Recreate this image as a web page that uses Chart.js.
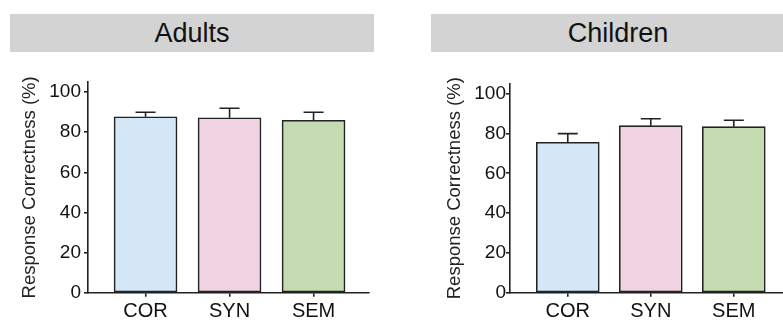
<!DOCTYPE html>
<html>
<head>
<meta charset="utf-8">
<script src="https://cdn.jsdelivr.net/npm/chart.js@4.4.1/dist/chart.umd.min.js"></script>
<style>
  body { margin: 0; width: 783px; height: 320px; overflow: hidden; background: #fff; position: relative; font-family: "Liberation Sans", Arial, sans-serif; }
  .panelTitle { position: absolute; top: 14px; height: 38px; line-height: 38px; background: #d3d3d3; color: #111; font-size: 27px; text-align: center; }
  canvas { position: absolute; top: 60px; }
</style>
</head>
<body>
<div class="panelTitle" style="left:10px; width:364px;">Adults</div>
<div class="panelTitle" style="left:431px; width:374px;">Children</div>
<canvas id="adultsChart" width="390" height="260" style="left:0px;"></canvas>
<canvas id="childrenChart" width="383" height="260" style="left:400px;"></canvas>
<script>
// chart values
const categories = ["COR", "SYN", "SEM"];
const barColors = ["#d3e7f6", "#efd3e2", "#c5dbb1"];
const adultsMean = [87.7, 87.2, 85.9];
const adultsErr = [2.2, 4.7, 4.0];
const childrenMean = [75.6, 83.9, 83.4];
const childrenErr = [4.3, 3.5, 3.2];
const yTicks = [0, 20, 40, 60, 80, 100];

const ink = "#222";
const fontFamily = "'Liberation Sans', Arial, sans-serif";

// upward-only error bars drawn from the y scale
const errorBarsPlugin = {
  id: "errorBars",
  afterDatasetsDraw(chart, args, opts) {
    const ctx = chart.ctx;
    const yScale = chart.scales.y;
    const meta = chart.getDatasetMeta(0);
    const means = chart.data.datasets[0].data;
    ctx.save();
    ctx.strokeStyle = ink;
    ctx.lineWidth = 1.6;
    meta.data.forEach((bar, i) => {
      const top = yScale.getPixelForValue(means[i].y + opts.errors[i]);
      ctx.beginPath();
      ctx.moveTo(bar.x, bar.y);
      ctx.lineTo(bar.x, top);
      ctx.moveTo(bar.x - 10, top);
      ctx.lineTo(bar.x + 10, top);
      ctx.stroke();
    });
    ctx.restore();
  },
};

function makeChart(canvasId, means, errors, cfg) {
  const ctx = document.getElementById(canvasId).getContext("2d");
  return new Chart(ctx, {
    type: "bar",
    data: {
      datasets: [
        {
          data: categories.map((c, i) => ({ x: i, y: means[i] })),
          backgroundColor: barColors,
          borderColor: ink,
          borderWidth: 1.6,
          borderSkipped: false,
          barThickness: 63,
        },
      ],
    },
    options: {
      responsive: false,
      animation: false,
      events: [],
      layout: { padding: cfg.padding },
      plugins: {
        legend: { display: false },
        tooltip: { enabled: false },
        errorBars: { errors: errors },
      },
      scales: {
        x: {
          type: "linear",
          offset: false,
          min: cfg.xMin,
          max: cfg.xMax,
          afterBuildTicks: (scale) => {
            scale.ticks = categories.map((c, i) => ({ value: i }));
          },
          afterFit: (scale) => {
            scale.height = 27.3;
          },
          ticks: {
            callback: (value) => categories[value],
            color: "#111",
            font: { family: fontFamily, size: 20 },
            padding: 3,
            maxRotation: 0,
          },
          grid: { display: true, offset: false, drawOnChartArea: false, drawTicks: true, tickLength: 4, color: ink, lineWidth: 1.6 },
          border: { display: true, color: ink, width: 1.6 },
        },
        y: {
          min: 0,
          max: 105,
          afterBuildTicks: (scale) => {
            scale.ticks = yTicks.map((v) => ({ value: v }));
          },
          afterFit: (scale) => {
            scale.width = cfg.yWidth;
          },
          ticks: {
            color: "#111",
            font: { family: fontFamily, size: 19 },
            padding: cfg.yTickPad,
          },
          grid: { display: true, drawOnChartArea: false, drawTicks: true, tickLength: 4, color: ink, lineWidth: 1.6 },
          border: { display: true, color: ink, width: 1.6 },
          title: {
            display: true,
            text: "Response Correctness (%)",
            color: "#222",
            font: { family: fontFamily, size: 18.5 },
            padding: { top: cfg.titlePad, bottom: 0 },
          },
        },
      },
    },
    plugins: [errorBarsPlugin],
  });
}

makeChart("adultsChart", adultsMean, adultsErr, {
  padding: { top: 22, right: 21, left: 0, bottom: 0 },
  xMin: -0.685,
  xMax: 2.66,
  yWidth: 88,
  yTickPad: 3,
  titlePad: 19,
});

makeChart("childrenChart", childrenMean, childrenErr, {
  padding: { top: 23.7, right: 0, left: 0, bottom: 0 },
  xMin: -0.696,
  xMax: 2.593,
  yWidth: 110,
  yTickPad: 0,
  titlePad: 44,
});
</script>
</body>
</html>
